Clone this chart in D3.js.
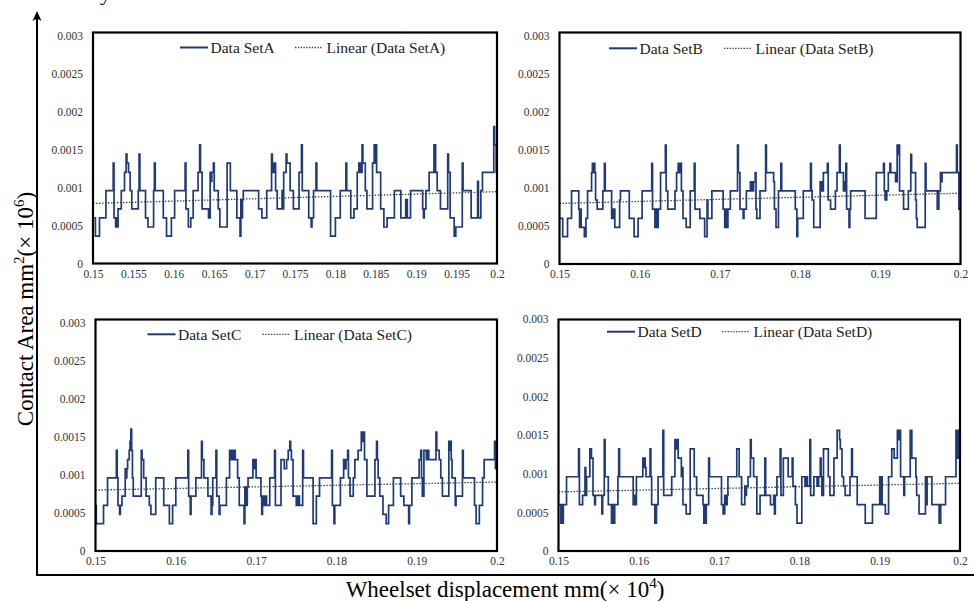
<!DOCTYPE html>
<html>
<head>
<meta charset="utf-8">
<script src="https://cdn.jsdelivr.net/npm/d3@7"></script>
<style>
  body { margin: 0; background: #fff; }
  svg { display: block; }
  text { font-family: "Liberation Serif", "Times New Roman", serif; }
</style>
</head>
<body>
<svg id="chart" width="974" height="601"></svg>
<script>
// step data: [displacement, contact area] - value holds until next point
const seriesA = [[0.1500,0.0006],[0.1503,0.00036],[0.1508,0.0006],[0.1516,0.00096],[0.1525,0.00132],[0.1526,0.0006],[0.1528,0.00048],[0.1529,0.0006],[0.1530,0.00048],[0.1531,0.00072],[0.1535,0.00096],[0.1539,0.0012],[0.1541,0.00144],[0.1542,0.00132],[0.1544,0.0012],[0.1546,0.00096],[0.1548,0.00072],[0.1556,0.00096],[0.1557,0.00144],[0.1558,0.00096],[0.1565,0.0006],[0.1568,0.00048],[0.1575,0.00096],[0.1576,0.00132],[0.1577,0.00096],[0.1587,0.0006],[0.1591,0.00036],[0.1597,0.0006],[0.1601,0.00096],[0.1614,0.00132],[0.1615,0.00072],[0.1618,0.00048],[0.1621,0.0006],[0.1624,0.00096],[0.1630,0.0012],[0.1632,0.00156],[0.1633,0.0012],[0.1635,0.00072],[0.1643,0.0006],[0.1645,0.0012],[0.1646,0.00108],[0.1647,0.0012],[0.1649,0.00132],[0.1650,0.00096],[0.1655,0.00072],[0.1657,0.00048],[0.1666,0.00132],[0.1670,0.00096],[0.1678,0.0006],[0.1682,0.00036],[0.1683,0.00084],[0.1684,0.0006],[0.1685,0.00084],[0.1686,0.00096],[0.1705,0.00072],[0.1709,0.0006],[0.1715,0.00096],[0.1721,0.00144],[0.1722,0.00132],[0.1723,0.0012],[0.1724,0.00132],[0.1726,0.00096],[0.1728,0.00072],[0.1734,0.00096],[0.1735,0.00072],[0.1736,0.0012],[0.1739,0.00144],[0.1740,0.00132],[0.1744,0.00096],[0.1748,0.00072],[0.1755,0.0012],[0.1758,0.00156],[0.1759,0.00096],[0.1767,0.0006],[0.1770,0.00048],[0.1771,0.0006],[0.1773,0.00096],[0.1776,0.00132],[0.1777,0.00096],[0.1794,0.00036],[0.1800,0.0006],[0.1806,0.00096],[0.1813,0.00132],[0.1814,0.00096],[0.1819,0.0006],[0.1823,0.00072],[0.1827,0.0012],[0.1829,0.00132],[0.1831,0.0012],[0.1833,0.00156],[0.1834,0.00132],[0.1837,0.00096],[0.1839,0.00072],[0.1846,0.00132],[0.1848,0.00156],[0.1849,0.00132],[0.1850,0.00156],[0.1851,0.0012],[0.1856,0.00072],[0.1860,0.00048],[0.1864,0.0006],[0.1873,0.00096],[0.1881,0.0006],[0.1887,0.00084],[0.1889,0.0006],[0.1893,0.00096],[0.1908,0.00072],[0.1909,0.0006],[0.1910,0.00072],[0.1912,0.00096],[0.1916,0.0012],[0.1922,0.00156],[0.1924,0.0012],[0.1926,0.00096],[0.1930,0.00072],[0.1939,0.00144],[0.1940,0.0012],[0.1942,0.0006],[0.1947,0.00036],[0.1949,0.00048],[0.1957,0.00132],[0.1958,0.00096],[0.1968,0.0006],[0.1976,0.00108],[0.1977,0.0006],[0.1980,0.00096],[0.1982,0.0012],[0.1996,0.0018],[0.1997,0.00156],[0.1999,0.0012]];

const seriesB = [[0.1500,0.0006],[0.1504,0.00036],[0.1510,0.0006],[0.1515,0.00096],[0.1524,0.00072],[0.1525,0.00048],[0.1526,0.00072],[0.1527,0.00048],[0.1531,0.00036],[0.1533,0.0006],[0.1535,0.00096],[0.1540,0.0012],[0.1541,0.00132],[0.1542,0.0012],[0.1543,0.00132],[0.1544,0.0012],[0.1545,0.00084],[0.1547,0.00072],[0.1554,0.00096],[0.1556,0.00132],[0.1557,0.00096],[0.1565,0.0006],[0.1567,0.00072],[0.1569,0.00048],[0.1575,0.00084],[0.1576,0.00096],[0.1587,0.0006],[0.1593,0.00036],[0.1598,0.0006],[0.1603,0.00096],[0.1615,0.00132],[0.1616,0.00072],[0.1619,0.00048],[0.1621,0.00072],[0.1622,0.00048],[0.1623,0.00072],[0.1626,0.0012],[0.1632,0.00156],[0.1633,0.00096],[0.1635,0.00072],[0.1644,0.00096],[0.1646,0.0012],[0.1648,0.00132],[0.1650,0.0012],[0.1651,0.00132],[0.1652,0.00096],[0.1654,0.0006],[0.1658,0.00048],[0.1663,0.00096],[0.1668,0.00132],[0.1669,0.00072],[0.1675,0.0006],[0.1681,0.00036],[0.1684,0.00084],[0.1685,0.0006],[0.1690,0.00096],[0.1704,0.00072],[0.1706,0.00048],[0.1707,0.00072],[0.1709,0.00048],[0.1710,0.00072],[0.1713,0.00096],[0.1722,0.00156],[0.1723,0.0012],[0.1725,0.00072],[0.1729,0.0006],[0.1730,0.00072],[0.1733,0.00096],[0.1738,0.00108],[0.1740,0.00096],[0.1742,0.00108],[0.1744,0.0012],[0.1745,0.00072],[0.1746,0.0006],[0.1750,0.00096],[0.1757,0.00156],[0.1758,0.0012],[0.1767,0.00108],[0.1768,0.00072],[0.1770,0.00048],[0.1773,0.00096],[0.1776,0.00132],[0.1777,0.00096],[0.1794,0.00072],[0.1796,0.00036],[0.1797,0.0006],[0.1804,0.00096],[0.1813,0.00132],[0.1814,0.00096],[0.1815,0.00084],[0.1817,0.00048],[0.1825,0.00108],[0.1827,0.00096],[0.1829,0.0012],[0.1834,0.00132],[0.1835,0.00084],[0.1838,0.00072],[0.1844,0.00096],[0.1846,0.0012],[0.1849,0.00156],[0.1850,0.0012],[0.1854,0.00096],[0.1856,0.00108],[0.1857,0.00132],[0.1858,0.00072],[0.1861,0.00048],[0.1862,0.00072],[0.1863,0.00096],[0.1881,0.0006],[0.1895,0.0012],[0.1904,0.00132],[0.1905,0.00096],[0.1906,0.00084],[0.1908,0.00096],[0.1910,0.0012],[0.1912,0.00132],[0.1913,0.0012],[0.1919,0.00108],[0.1921,0.00156],[0.1922,0.00144],[0.1923,0.00156],[0.1924,0.00096],[0.1929,0.00072],[0.1935,0.00096],[0.1938,0.00144],[0.1939,0.0012],[0.1944,0.00084],[0.1945,0.0006],[0.1946,0.00048],[0.1956,0.00132],[0.1957,0.00096],[0.1971,0.00072],[0.1973,0.00096],[0.1975,0.0012],[0.1976,0.00108],[0.1977,0.0012],[0.1995,0.00156],[0.1996,0.0012],[0.1998,0.00072]];

const seriesC = [[0.1500,0.0006],[0.1501,0.00036],[0.1510,0.0006],[0.1515,0.00096],[0.1526,0.00132],[0.1527,0.00096],[0.1528,0.0006],[0.1530,0.00048],[0.1531,0.0006],[0.1533,0.00072],[0.1537,0.00108],[0.1538,0.00096],[0.1539,0.00108],[0.1540,0.0012],[0.1542,0.00132],[0.1543,0.00144],[0.1544,0.0016],[0.1545,0.00132],[0.1546,0.00096],[0.1547,0.00072],[0.1557,0.00132],[0.1558,0.0012],[0.1560,0.00096],[0.1563,0.00072],[0.1567,0.0006],[0.1569,0.00048],[0.1575,0.00096],[0.1585,0.0006],[0.1592,0.00036],[0.1596,0.0006],[0.1600,0.00096],[0.1615,0.00132],[0.1616,0.00072],[0.1618,0.00048],[0.1619,0.00072],[0.1625,0.00096],[0.1632,0.00144],[0.1633,0.0012],[0.1635,0.00096],[0.1640,0.00072],[0.1644,0.00048],[0.1645,0.0006],[0.1646,0.00096],[0.1650,0.00132],[0.1651,0.00072],[0.1654,0.00048],[0.1655,0.0006],[0.1663,0.00096],[0.1667,0.00132],[0.1669,0.0012],[0.1670,0.00132],[0.1671,0.0012],[0.1673,0.00132],[0.1674,0.0012],[0.1677,0.00096],[0.1679,0.0006],[0.1685,0.00036],[0.1686,0.00084],[0.1687,0.0006],[0.1689,0.00084],[0.1690,0.00096],[0.1696,0.0012],[0.1697,0.00108],[0.1698,0.0012],[0.1700,0.00096],[0.1706,0.00072],[0.1707,0.00048],[0.1708,0.00072],[0.1710,0.0006],[0.1711,0.00072],[0.1713,0.0006],[0.1717,0.00096],[0.1723,0.00132],[0.1724,0.0006],[0.1731,0.0012],[0.1735,0.00108],[0.1738,0.0012],[0.1740,0.00132],[0.1742,0.00144],[0.1743,0.00132],[0.1744,0.0012],[0.1746,0.00072],[0.1750,0.0006],[0.1752,0.00072],[0.1754,0.0006],[0.1758,0.00132],[0.1759,0.00096],[0.1771,0.00036],[0.1775,0.00072],[0.1779,0.00096],[0.1794,0.00132],[0.1795,0.0006],[0.1797,0.00036],[0.1798,0.0006],[0.1805,0.00096],[0.1809,0.0012],[0.1811,0.00108],[0.1812,0.0012],[0.1814,0.00132],[0.1815,0.00096],[0.1817,0.00072],[0.1821,0.00096],[0.1823,0.0012],[0.1827,0.00132],[0.1831,0.00156],[0.1832,0.00144],[0.1833,0.00156],[0.1835,0.0012],[0.1838,0.00072],[0.1848,0.0012],[0.1850,0.00144],[0.1851,0.0012],[0.1852,0.00096],[0.1854,0.00072],[0.1858,0.00048],[0.1862,0.00036],[0.1865,0.0006],[0.1871,0.00096],[0.1880,0.00072],[0.1884,0.0006],[0.1890,0.00036],[0.1891,0.0006],[0.1894,0.00096],[0.1903,0.0012],[0.1905,0.00132],[0.1906,0.00096],[0.1907,0.00072],[0.1909,0.00132],[0.1912,0.0012],[0.1913,0.00132],[0.1915,0.0012],[0.1924,0.00156],[0.1925,0.00132],[0.1928,0.0012],[0.1930,0.00096],[0.1932,0.00072],[0.1940,0.00144],[0.1941,0.00132],[0.1942,0.00144],[0.1943,0.0012],[0.1944,0.00096],[0.1948,0.0006],[0.1949,0.00072],[0.1957,0.00132],[0.1958,0.00096],[0.1972,0.0006],[0.1974,0.00036],[0.1978,0.0006],[0.1982,0.00096],[0.1984,0.0012],[0.1997,0.00144],[0.1998,0.00108],[0.1999,0.0012]];

const seriesD = [[0.1500,0.0006],[0.1503,0.00036],[0.1504,0.0006],[0.1505,0.00036],[0.1506,0.0006],[0.1510,0.00096],[0.1525,0.00132],[0.1526,0.0006],[0.1530,0.00072],[0.1533,0.00108],[0.1534,0.00072],[0.1535,0.00096],[0.1539,0.00132],[0.1541,0.0012],[0.1543,0.00072],[0.1545,0.0006],[0.1546,0.00072],[0.1554,0.00048],[0.1555,0.00072],[0.1557,0.00144],[0.1558,0.00096],[0.1562,0.0006],[0.1566,0.00036],[0.1568,0.0006],[0.1569,0.00036],[0.1570,0.0006],[0.1574,0.00096],[0.1575,0.00132],[0.1576,0.00096],[0.1593,0.0006],[0.1594,0.00072],[0.1595,0.0006],[0.1597,0.00096],[0.1605,0.0012],[0.1606,0.00108],[0.1607,0.0012],[0.1608,0.00108],[0.1609,0.00096],[0.1614,0.00132],[0.1615,0.00096],[0.1616,0.0006],[0.1620,0.00036],[0.1622,0.0006],[0.1624,0.00096],[0.1630,0.00156],[0.1631,0.00072],[0.1641,0.00096],[0.1645,0.00144],[0.1646,0.00132],[0.1647,0.00144],[0.1649,0.0012],[0.1653,0.00096],[0.1654,0.00108],[0.1655,0.0006],[0.1659,0.00048],[0.1664,0.00132],[0.1669,0.00096],[0.1672,0.00072],[0.1680,0.0006],[0.1681,0.00036],[0.1682,0.0006],[0.1683,0.00036],[0.1684,0.0006],[0.1687,0.0012],[0.1688,0.00096],[0.1703,0.0006],[0.1705,0.00048],[0.1707,0.00072],[0.1709,0.0006],[0.1710,0.00072],[0.1711,0.00096],[0.1722,0.00132],[0.1725,0.00096],[0.1728,0.0006],[0.1732,0.00084],[0.1733,0.00072],[0.1734,0.00084],[0.1736,0.00096],[0.1739,0.00144],[0.1740,0.0012],[0.1743,0.00096],[0.1747,0.00048],[0.1751,0.00072],[0.1757,0.0012],[0.1758,0.00072],[0.1764,0.0006],[0.1768,0.00072],[0.1769,0.00048],[0.1770,0.00072],[0.1772,0.00096],[0.1776,0.00132],[0.1777,0.00072],[0.1780,0.0012],[0.1786,0.00096],[0.1791,0.0012],[0.1792,0.00084],[0.1795,0.0006],[0.1797,0.00036],[0.1803,0.00096],[0.1807,0.00084],[0.1809,0.00096],[0.1810,0.00084],[0.1813,0.00144],[0.1814,0.00072],[0.1818,0.00096],[0.1822,0.00084],[0.1824,0.00096],[0.1826,0.0012],[0.1827,0.00096],[0.1828,0.00072],[0.1830,0.00132],[0.1836,0.00096],[0.1838,0.00072],[0.1843,0.0012],[0.1847,0.00156],[0.1850,0.00144],[0.1851,0.00132],[0.1853,0.00096],[0.1855,0.00084],[0.1857,0.00072],[0.1863,0.00096],[0.1865,0.00132],[0.1866,0.00096],[0.1872,0.0006],[0.1882,0.00036],[0.1891,0.0006],[0.1900,0.00096],[0.1901,0.0006],[0.1902,0.00096],[0.1903,0.0006],[0.1907,0.00048],[0.1911,0.00096],[0.1915,0.00132],[0.1918,0.0012],[0.1922,0.00156],[0.1923,0.00144],[0.1924,0.00156],[0.1926,0.00096],[0.1930,0.00072],[0.1931,0.00096],[0.1938,0.00156],[0.1940,0.0012],[0.1945,0.00096],[0.1946,0.00072],[0.1949,0.00048],[0.1957,0.00096],[0.1958,0.0006],[0.1959,0.00096],[0.1965,0.0006],[0.1974,0.00036],[0.1976,0.0006],[0.1982,0.00096],[0.1995,0.00156],[0.1996,0.0012],[0.1997,0.00156],[0.1998,0.0012],[0.1999,0.00156]];

// Excel linear trendline, value at x=0.15 and x=0.2
const trendA = [0.00079, 0.000945];
const trendB = [0.000795, 0.00093];
const trendC = [0.0008, 0.000905];
const trendD = [0.000765, 0.000875];

const seriesNames = ["Data SetA", "Data SetB", "Data SetC", "Data SetD"];
const xTicksFine = [0.15, 0.155, 0.16, 0.165, 0.17, 0.175, 0.18, 0.185, 0.19, 0.195, 0.2];
const xTicksCoarse = [0.15, 0.16, 0.17, 0.18, 0.19, 0.2];
const yTicks = [0, 0.0005, 0.001, 0.0015, 0.002, 0.0025, 0.003];

const svg = d3.select("#chart");
const navy = "#1f3a78";

// panel layout (pixels)
const panels = [
  { data: seriesA, trend: trendA, name: seriesNames[0], xt: xTicksFine,   x0: 93,    x1: 497, yTop: 35.5,  yBot: 263.5, boxTop: 32.5,  legX: 180, legY: 47.5 },
  { data: seriesB, trend: trendB, name: seriesNames[1], xt: xTicksCoarse, x0: 559.5, x1: 960.5, yTop: 35.5, yBot: 264,   boxTop: 32.5,  legX: 609, legY: 48.3 },
  { data: seriesC, trend: trendC, name: seriesNames[2], xt: xTicksCoarse, x0: 95.5,  x1: 497, yTop: 322.5, yBot: 551,   boxTop: 319.5, legX: 147.5, legY: 334.3 },
  { data: seriesD, trend: trendD, name: seriesNames[3], xt: xTicksCoarse, x0: 558.5, x1: 960, yTop: 319,   yBot: 551,   boxTop: 319.5, legX: 607, legY: 331.7 }
];

panels.forEach(drawPanel);

function drawPanel(p) {
  var g = svg.append("g");

  var xScale = d3.scaleLinear().domain([0.15, 0.2]).range([p.x0, p.x1]);
  var yScale = d3.scaleLinear().domain([0, 0.003]).range([p.yBot, p.yTop]);

  // axes (labels only)
  var xAxis = g.append("g")
    .attr("transform", `translate(0,${p.yBot})`)
    .call(d3.axisBottom(xScale).tickValues(p.xt).tickSize(0).tickPadding(6).tickFormat(d => String(d)));
  var yAxis = g.append("g")
    .attr("transform", `translate(${p.x0},0)`)
    .call(d3.axisLeft(yScale).tickValues(yTicks).tickSize(0).tickPadding(10).tickFormat(d => String(d)));
  g.selectAll(".domain").remove();
  g.selectAll(".tick text")
    .style("font-family", '"Liberation Serif", "Times New Roman", serif')
    .style("font-size", "11.5px")
    .attr("fill", "#333");

  // step series
  var pts = p.data.concat([[0.2, p.data[p.data.length - 1][1]]]);
  var line = d3.line()
    .x(d => xScale(d[0]))
    .y(d => yScale(d[1]))
    .curve(d3.curveStepAfter);
  g.append("path")
    .datum(pts)
    .attr("d", line)
    .attr("fill", "none")
    .attr("stroke", navy)
    .attr("stroke-width", 1.7)
    .attr("stroke-linejoin", "miter");

  // trendline
  g.append("line")
    .attr("x1", xScale(0.15)).attr("y1", yScale(p.trend[0]))
    .attr("x2", xScale(0.2)).attr("y2", yScale(p.trend[1]))
    .attr("stroke", "#3a3a3a")
    .attr("stroke-width", 1.3)
    .attr("stroke-dasharray", "1.4 1.6");

  // plot box
  g.append("rect")
    .attr("x", p.x0).attr("y", p.boxTop)
    .attr("width", p.x1 - p.x0).attr("height", p.yBot - p.boxTop)
    .attr("fill", "none")
    .attr("stroke", "#000")
    .attr("stroke-width", 2.2);

  // legend
  var leg = g.append("g").attr("transform", `translate(${p.legX},${p.legY})`);
  leg.append("line").attr("x1", 0).attr("x2", 28).attr("y1", 0).attr("y2", 0)
    .attr("stroke", navy).attr("stroke-width", 2);
  leg.append("text").attr("x", 30.5).attr("y", 5.5)
    .style("font-size", "15.5px").attr("fill", "#222").text(p.name);
  leg.append("line").attr("x1", 115).attr("x2", 143).attr("y1", 0).attr("y2", 0)
    .attr("stroke", "#444").attr("stroke-width", 1.3).attr("stroke-dasharray", "1.4 1.4");
  leg.append("text").attr("x", 146.5).attr("y", 5.5)
    .style("font-size", "15.5px").attr("fill", "#222").text("Linear (" + p.name + ")");
}

// outer L-shaped frame with arrow on vertical axis
svg.append("line").attr("x1", 37).attr("x2", 37).attr("y1", 18).attr("y2", 576)
  .attr("stroke", "#000").attr("stroke-width", 2);
svg.append("line").attr("x1", 36).attr("x2", 974).attr("y1", 575).attr("y2", 575)
  .attr("stroke", "#000").attr("stroke-width", 2);
svg.append("path").attr("d", "M37,11 L32.5,21 L37,18.5 L41.5,21 Z").attr("fill", "#000");

// cut-off caption glyph at the very top
svg.append("text").attr("x", 100).attr("y", 0).style("font-size", "22px").text("y");

// axis titles
var yTitle = svg.append("text")
  .attr("transform", "translate(33,309) rotate(-90)")
  .attr("text-anchor", "middle")
  .style("font-size", "23px");
yTitle.append("tspan").text("Contact Area mm");
yTitle.append("tspan").attr("dy", -9).style("font-size", "15px").text("2");
yTitle.append("tspan").attr("dy", 9).text("(× 10");
yTitle.append("tspan").attr("dy", -9).style("font-size", "15px").text("6");
yTitle.append("tspan").attr("dy", 9).text(")");

var xTitle = svg.append("text")
  .attr("x", 505).attr("y", 597)
  .attr("text-anchor", "middle")
  .style("font-size", "23px");
xTitle.append("tspan").text("Wheelset displacement mm(× 10");
xTitle.append("tspan").attr("dy", -9).style("font-size", "15px").text("4");
xTitle.append("tspan").attr("dy", 9).text(")");
</script>
</body>
</html>
